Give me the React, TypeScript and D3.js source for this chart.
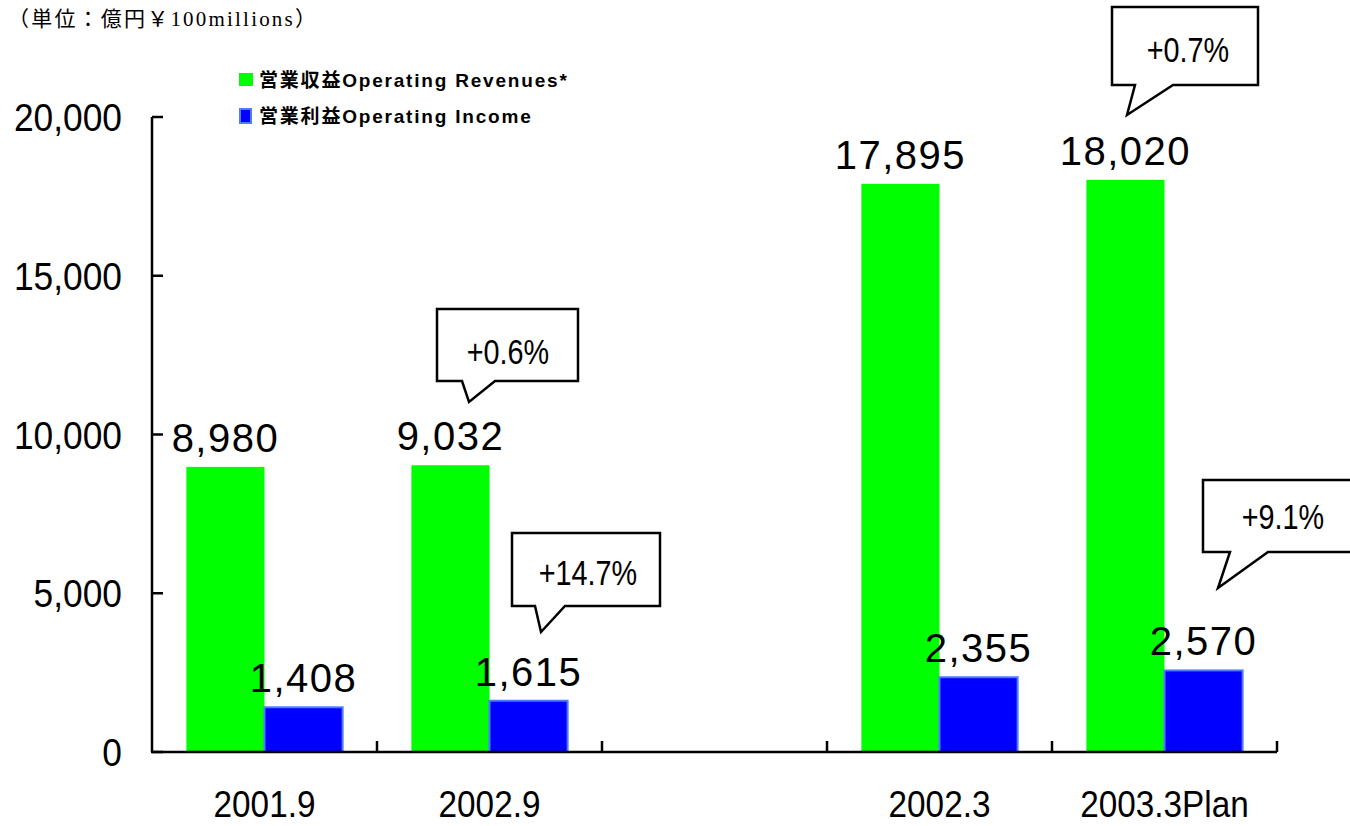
import React from "react";
import * as d3 from "d3";

const categories = ["2001.9", "2002.9", "", "2002.3", "2003.3Plan"];
const revenues: (number | null)[] = [8980, 9032, null, 17895, 18020];
const incomes: (number | null)[] = [1408, 1615, null, 2355, 2570];
const yTicks = [0, 5000, 10000, 15000, 20000];
const calloutTexts = ["+0.6%", "+14.7%", "+0.7%", "+9.1%"];
const legendLabels = ["営業収益Operating Revenues*", "営業利益Operating Income"];
const unitLabel = "（単位：億円￥100millions）";

const W = 1350;
const H = 826;
const GREEN = "#00ff00";
const BLUE = "#0000ff";
const BLUE_EDGE = "#4d7dff";

// callout geometry: box [x0,y0,x1,y1], tail [leftX, tipX, tipY, rightX], text center
const calloutGeom = [
  { box: [437, 309, 578, 381], tail: [462, 469, 402, 495], tx: 508, ty: 364 },
  { box: [512, 533, 660, 606], tail: [535, 541, 632, 565], tx: 588, ty: 585 },
  { box: [1112, 7, 1258, 85], tail: [1135, 1127, 115, 1173], tx: 1188, ty: 62 },
  { box: [1203, 480, 1360, 552], tail: [1230, 1218, 588, 1268], tx: 1283, ty: 529 },
];

export default function App() {
  const x = d3.scaleBand<string>().domain(categories.map((c, i) => String(i))).range([152, 1277]).paddingInner(0).paddingOuter(0);
  const x1 = d3.scaleBand<string>().domain(["rev", "inc"]).range([0, x.bandwidth()]).paddingInner(0).paddingOuter(0.44);
  const y = d3.scaleLinear().domain([0, 20000]).range([752, 117]);
  const fmt = d3.format(",");
  const sans = "'Liberation Sans', Arial, Helvetica, sans-serif";

  const boundaries = categories.map((c, i) => x(String(i))!).concat([x.range()[1]]);

  return (
    <svg width={W} height={H} style={{ position: "absolute", left: 0, top: 0, background: "#fff" }} fontFamily={sans}>
      <rect x={0} y={0} width={W} height={H} fill="#fff" />
      {/* unit label */}
      <text x={8} y={26} fontFamily="'Liberation Serif', 'Noto Sans CJK JP', serif" fontSize={21} letterSpacing={2.2} fill="#000">
        {unitLabel}
      </text>

      {/* legend */}
      <rect x={239} y={73} width={14} height={13} fill={GREEN} />
      <text x={259} y={87} fontSize={19} fontWeight="bold" letterSpacing={1.8} fill="#000" fontFamily={`${sans}, 'Noto Sans CJK JP'`}>
        {legendLabels[0]}
      </text>
      <rect x={240} y={109} width={11} height={14} fill={BLUE} stroke={BLUE_EDGE} strokeWidth={2} />
      <text x={259} y={123} fontSize={19} fontWeight="bold" letterSpacing={1.8} fill="#000" fontFamily={`${sans}, 'Noto Sans CJK JP'`}>
        {legendLabels[1]}
      </text>

      {/* bars */}
      {categories.map((c, i) => {
        const bx = x(String(i))!;
        const r = revenues[i];
        const inc = incomes[i];
        return (
          <g key={i}>
            {r != null && (
              <rect x={bx + x1("rev")!} y={y(r)} width={x1.bandwidth()} height={y(0) - y(r)} fill={GREEN} />
            )}
            {inc != null && (
              <rect x={bx + x1("inc")!} y={y(inc)} width={x1.bandwidth()} height={y(0) - y(inc)} fill={BLUE} stroke={BLUE_EDGE} strokeWidth={2} />
            )}
            {r != null && (
              <text x={bx + x1("rev")! + x1.bandwidth() / 2} y={y(r) - 15} fontSize={40} textAnchor="middle" letterSpacing={1.5} fill="#000">
                {fmt(r)}
              </text>
            )}
            {inc != null && (
              <text x={bx + x1("inc")! + x1.bandwidth() / 2} y={y(inc) - 15} fontSize={40} textAnchor="middle" letterSpacing={1.5} fill="#000">
                {fmt(inc)}
              </text>
            )}
            {c && (
              <text transform={`translate(${bx + x.bandwidth() / 2},817) scale(0.9,1)`} fontSize={37} textAnchor="middle" fill="#000">
                {c}
              </text>
            )}
          </g>
        );
      })}

      {/* axes */}
      <line x1={152} x2={152} y1={y(20000)} y2={y(0)} stroke="#000" strokeWidth={2.5} />
      <line x1={151} x2={x.range()[1]} y1={y(0)} y2={y(0)} stroke="#000" strokeWidth={2.5} />
      {yTicks.map((t) => (
        <g key={t}>
          <line x1={152} x2={163} y1={y(t)} y2={y(t)} stroke="#000" strokeWidth={2.5} />
          <text transform={`translate(122,${y(t) + 14}) scale(0.93,1)`} fontSize={38} textAnchor="end" fill="#000">
            {fmt(t)}
          </text>
        </g>
      ))}
      {boundaries.slice(1).map((bx, i) => (
        <line key={i} x1={bx} x2={bx} y1={y(0)} y2={y(0) - 11} stroke="#000" strokeWidth={2.5} />
      ))}

      {/* callouts */}
      {calloutTexts.map((t, i) => {
        const g = calloutGeom[i];
        const [x0, y0, xr, y1] = g.box;
        const [tl, tx, ty, tr] = g.tail;
        const d = `M${x0},${y0} L${xr},${y0} L${xr},${y1} L${tr},${y1} L${tx},${ty} L${tl},${y1} L${x0},${y1} Z`;
        return (
          <g key={i}>
            <path d={d} fill="#fff" stroke="#000" strokeWidth={2.5} strokeLinejoin="miter" />
            <text transform={`translate(${g.tx},${g.ty}) scale(0.8,1)`} fontSize={36} textAnchor="middle" fill="#000">
              {t}
            </text>
          </g>
        );
      })}
    </svg>
  );
}
